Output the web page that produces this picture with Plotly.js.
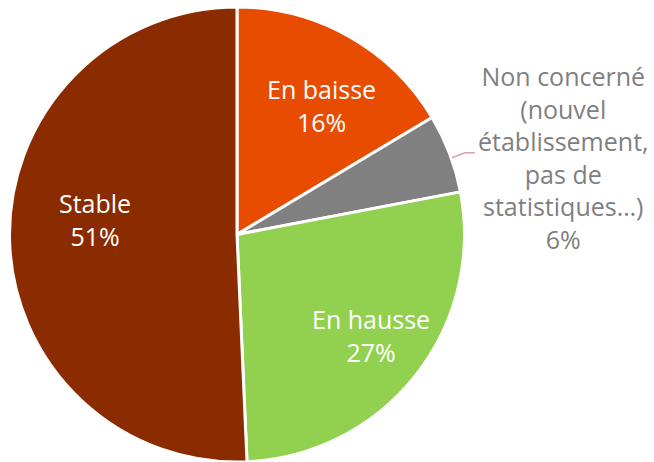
<!DOCTYPE html>
<html>
<head>
<meta charset="utf-8">
<script src="https://cdn.plot.ly/plotly-3.0.1.min.js"></script>
<style>html,body{margin:0;padding:0;background:#fff;}#chart{width:654px;height:462px;}</style>
</head>
<body>
<div id="chart"></div>
<script>
const categories = ["En baisse", "Non concerné (nouvel établissement, pas de statistiques…)", "En hausse", "Stable"];
const labelLines = [
  ["En baisse"],
  ["Non concerné", "(nouvel", "établissement,", "pas de", "statistiques…)"],
  ["En hausse"],
  ["Stable"]
];
const values = [16.4, 5.6, 27.3, 50.7];
const percentLabels = ["16%", "6%", "27%", "51%"];
const colors = ["#E84C00", "#808080", "#92D050", "#8B2C00"];
const textColors = ["#ffffff", "#7f7f7f", "#ffffff", "#ffffff"];
// label anchor positions (paper coords)
const labelPos = [[0.491, 0.783], [0.862, 0.670], [0.567, 0.278], [0.146, 0.532]];

const FONT = "'Open Sans', Lato, sans-serif";

const annotations = categories.map((c, i) => ({
  xref: "paper", yref: "paper",
  x: labelPos[i][0], y: labelPos[i][1],
  xanchor: "center", yanchor: "middle",
  text: labelLines[i].concat([percentLabels[i]]).join("<br>"),
  showarrow: false,
  font: {family: FONT, size: 25, color: textColors[i]},
  align: "center"
}));

const data = [{
  type: "pie",
  labels: categories,
  values: values,
  sort: false,
  direction: "clockwise",
  rotation: 0,
  textinfo: "none",
  hoverinfo: "label+percent",
  marker: {colors: colors, line: {color: "#ffffff", width: 3}},
  domain: {x: [9/654, 465/654], y: [0, 1]},
  showlegend: false
}];

const layout = {
  width: 654, height: 462,
  margin: {l: 0, r: 0, t: 7, b: 0},
  paper_bgcolor: "#ffffff",
  showlegend: false,
  annotations: annotations,
  shapes: [{
    type: "path", xref: "paper", yref: "paper",
    path: "M " + (452/654) + "," + (1 - 153/462) + " L " + (465/654) + "," + (1 - 148/462) + " L " + (475/654) + "," + (1 - 148/462),
    line: {color: "#D9A0B4", width: 1.5}
  }]
};

Plotly.newPlot("chart", data, layout, {displayModeBar: false, staticPlot: true});
</script>
</body>
</html>
